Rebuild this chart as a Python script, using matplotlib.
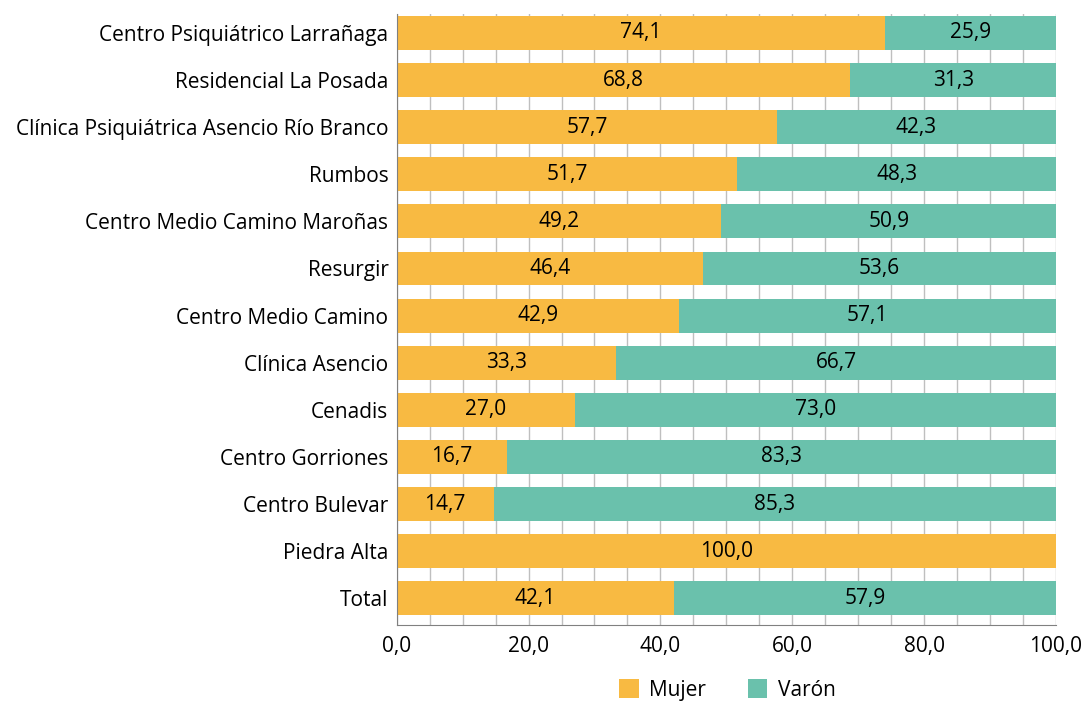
import numpy as np
import matplotlib.pyplot as plt

plt.rcParams['font.family'] = ['Open Sans', 'DejaVu Sans']

centros = ['Centro Psiquiátrico Larrañaga', 'Residencial La Posada',
           'Clínica Psiquiátrica Asencio Río Branco', 'Rumbos',
           'Centro Medio Camino Maroñas', 'Resurgir', 'Centro Medio Camino',
           'Clínica Asencio', 'Cenadis', 'Centro Gorriones', 'Centro Bulevar',
           'Piedra Alta', 'Total']
mujer = [74.1, 68.8, 57.7, 51.7, 49.2, 46.4, 42.9, 33.3, 27.0, 16.7, 14.7, 100.0, 42.1]
varon = [25.9, 31.3, 42.3, 48.3, 50.9, 53.6, 57.1, 66.7, 73.0, 83.3, 85.3, 0.0, 57.9]

naranja = '#F8BA42'
verde = '#6AC1AC'

fig = plt.figure(figsize=(10.84, 7.04), dpi=100)
ax = fig.add_axes([0.366, 0.112, 0.608, 0.868])

y = np.arange(len(centros))
b1 = ax.barh(y, mujer, height=0.72, color=naranja, label='Mujer', zorder=2)
b2 = ax.barh(y, varon, left=mujer, height=0.72, color=verde, label='Varón', zorder=2)

def fmt(v):
    return f'{v:.1f}'.replace('.', ',')

for i in range(len(centros)):
    if mujer[i] > 0:
        ax.text(mujer[i] / 2, y[i], fmt(mujer[i]), ha='center', va='center', fontsize=15, color='black', zorder=3)
    if varon[i] > 0:
        ax.text(mujer[i] + varon[i] / 2, y[i], fmt(varon[i]), ha='center', va='center', fontsize=15, color='black', zorder=3)

ax.set_xlim(0, 100)
ax.set_ylim(len(centros) - 0.43, -0.4)
ax.set_yticks(y)
ax.set_yticklabels(centros, fontsize=15)
ax.set_xticks(np.arange(0, 101, 20))
ax.set_xticklabels([fmt(v) for v in np.arange(0, 101, 20)], fontsize=15)
ax.set_xticks(np.arange(0, 101, 5), minor=True)
ax.grid(axis='x', which='both', color='#bfbfbf', linewidth=1, zorder=0)
ax.tick_params(axis='y', which='both', length=0, pad=6)
ax.tick_params(axis='x', which='both', length=0, pad=8)

for s in ['top', 'right']:
    ax.spines[s].set_visible(False)
ax.spines['left'].set_color('#808080')
ax.spines['bottom'].set_color('#808080')

fig.legend(handles=[b1, b2], loc='center', bbox_to_anchor=(0.671, 0.02), ncol=2,
           frameon=False, fontsize=15, handlelength=0.95, handleheight=1.0,
           handletextpad=0.5, columnspacing=2.0)

fig.savefig('out.png', dpi=100)
